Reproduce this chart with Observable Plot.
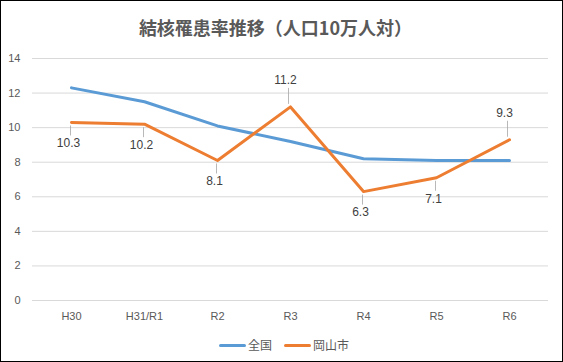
<!DOCTYPE html>
<html>
<head>
<meta charset="utf-8">
<script src="https://cdn.jsdelivr.net/npm/d3@7"></script>
<script src="https://cdn.jsdelivr.net/npm/@observablehq/plot@0.6"></script>
<style>
  html, body { margin: 0; padding: 0; background: #fff; }
  #wrap { position: relative; width: 563px; height: 362px; overflow: hidden; background: #fff; }
  #frame { position: absolute; left: 0; top: 0; width: 563px; height: 362px; box-sizing: border-box; border: 1px solid #000; pointer-events: none; }
  #title { position: absolute; left: 0; top: 13px; width: 551px; text-align: center; font-family: "Noto Sans CJK JP", sans-serif; font-weight: bold; font-size: 18px; line-height: 28px; color: #595959; }
  #chart { position: absolute; left: 0; top: 50px; }
  #chart svg { overflow: visible; }
  #legend { position: absolute; top: 337px; left: 219px; display: flex; align-items: center; font-family: "Noto Sans CJK JP", sans-serif; font-size: 12px; color: #595959; line-height: 16px; }
  .sw { display: inline-block; width: 27px; height: 3px; border-radius: 1.5px; margin-right: 2px; }
  .item { display: flex; align-items: center; margin-right: 12px; }
</style>
</head>
<body>
<div id="wrap">
  <div id="title"></div>
  <div id="chart"></div>
  <div id="legend"></div>
  <div id="frame"></div>
</div>
<script>
const titleText = "結核罹患率推移（人口10万人対）";
const years = ["H30", "H31/R1", "R2", "R3", "R4", "R5", "R6"];
const national = [12.3, 11.5, 10.1, 9.2, 8.2, 8.1, 8.1];
const okayama = [10.3, 10.2, 8.1, 11.2, 6.3, 7.1, 9.3];
const seriesNames = ["全国", "岡山市"];
const seriesColors = ["#5B9BD5", "#ED7D31"];
const yTicks = [0, 2, 4, 6, 8, 10, 12, 14];

document.getElementById("title").textContent = titleText;

const natData = years.map((y, i) => ({year: y, value: national[i]}));
const okaData = years.map((y, i) => ({year: y, value: okayama[i], i}));
// label above at interior local peaks and at the final point, otherwise below
const isAbove = d => {
  const prev = okayama[d.i - 1], next = okayama[d.i + 1];
  if (next === undefined) return true;
  if (prev === undefined) return false;
  return d.value > prev && d.value > next;
};
const above = okaData.filter(isAbove);
const below = okaData.filter(d => !isAbove(d));
const pxPerUnit = 242 / 14;

const plot = Plot.plot({
  width: 563,
  height: 280,
  marginLeft: 32,
  marginRight: 15,
  marginTop: 8,
  marginBottom: 30,
  style: {fontFamily: "'Liberation Sans', Arial, sans-serif", fontSize: "11px", color: "#595959", background: "transparent"},
  x: {type: "point", domain: years, padding: 0.5, label: null},
  y: {domain: [0, 14], label: null},
  marks: [
    Plot.gridY(yTicks, {stroke: "#d9d9d9", strokeOpacity: 1, strokeWidth: 1}),
    Plot.axisY(yTicks, {tickSize: 0, tickPadding: 12, label: null}),
    Plot.axisX({tickSize: 0, tickPadding: 12, label: null}),
    Plot.line(natData, {x: "year", y: "value", stroke: seriesColors[0], strokeWidth: 3, strokeLinecap: "round", strokeLinejoin: "round"}),
    Plot.line(okaData, {x: "year", y: "value", stroke: seriesColors[1], strokeWidth: 3, strokeLinecap: "round", strokeLinejoin: "round"}),
    Plot.link(below, {x1: "year", x2: "year", y1: d => d.value - 3 / pxPerUnit, y2: d => d.value - 13 / pxPerUnit, stroke: "#a6a6a6", strokeWidth: 0.8, dx: -1}),
    Plot.link(above, {x1: "year", x2: "year", y1: d => d.value + 3 / pxPerUnit, y2: d => d.value + 19 / pxPerUnit, stroke: "#a6a6a6", strokeWidth: 0.8, dx: -2}),
    Plot.text(below, {x: "year", y: "value", text: d => d.value.toFixed(1), dy: 21, dx: -3, fill: "#404040", fontSize: 12}),
    Plot.text(above, {x: "year", y: "value", text: d => d.value.toFixed(1), dy: -27, dx: -5, fill: "#404040", fontSize: 12})
  ]
});
document.getElementById("chart").appendChild(plot);

const legend = document.getElementById("legend");
seriesNames.forEach((name, i) => {
  const item = document.createElement("span");
  item.className = "item";
  const sw = document.createElement("span");
  sw.className = "sw";
  sw.style.background = seriesColors[i];
  const label = document.createElement("span");
  label.textContent = name;
  item.appendChild(sw);
  item.appendChild(label);
  legend.appendChild(item);
});
</script>
</body>
</html>
